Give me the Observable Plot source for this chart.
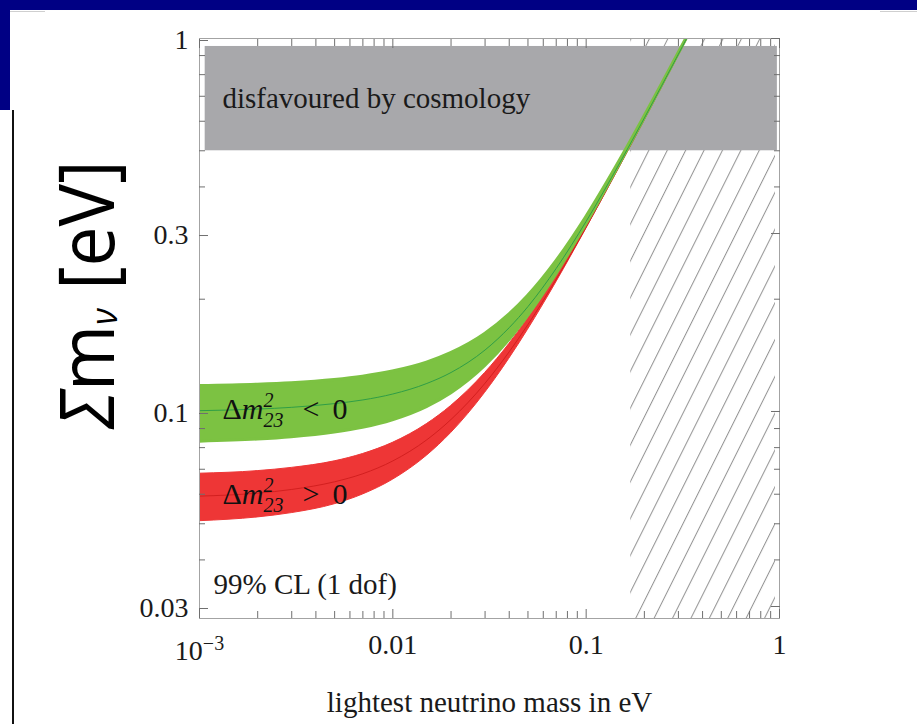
<!DOCTYPE html>
<html>
<head>
<meta charset="utf-8">
<script src="https://cdn.jsdelivr.net/npm/d3@7"></script>
<script src="https://cdn.jsdelivr.net/npm/@observablehq/plot@0.6"></script>
<style>
html, body { margin: 0; padding: 0; background: #fff; }
#wrap { position: relative; width: 917px; height: 724px; overflow: hidden; background: #fff; }
#chart { position: absolute; left: 0; top: 0; }
.deco { position: absolute; }
</style>
</head>
<body>
<div id="wrap">
  <div id="chart"></div>
  <div class="deco" style="left:0;top:0;width:917px;height:10px;background:#000084"></div>
  <div class="deco" style="left:0;top:0;width:10px;height:110px;background:#000084"></div>
  <div class="deco" style="left:10px;top:11px;width:35px;height:1px;background:#cfcfcf"></div>
  <div class="deco" style="left:880px;top:11px;width:37px;height:1px;background:#cfcfcf"></div>
  <div class="deco" style="left:12px;top:110px;width:2px;height:614px;background:#111"></div>
</div>
<script>
// ---- data ----
const masses          = [0.001, 0.002, 0.003, 0.005, 0.007, 0.01, 0.015, 0.02, 0.03, 0.04, 0.05, 0.07, 0.1, 0.15, 0.2, 0.3, 0.33];
const normalCentral   = [0.0593, 0.0604, 0.0618, 0.0648, 0.0681, 0.0737, 0.0840, 0.0952, 0.1191, 0.1446, 0.1711, 0.2263, 0.3120, 0.4582, 0.6062, 0.9042, 0.9938];
const normalLow       = [0.0508, 0.0520, 0.0534, 0.0564, 0.0599, 0.0656, 0.0761, 0.0875, 0.1122, 0.1384, 0.1656, 0.2218, 0.3085, 0.4558, 0.6044, 0.9030, 0.9927];
const normalHigh      = [0.0681, 0.0692, 0.0706, 0.0735, 0.0769, 0.0824, 0.0925, 0.1034, 0.1268, 0.1516, 0.1776, 0.2316, 0.3161, 0.4612, 0.6085, 0.9057, 0.9952];
const invertedCentral = [0.1005, 0.1015, 0.1026, 0.1050, 0.1074, 0.1114, 0.1189, 0.1272, 0.1462, 0.1678, 0.1911, 0.2419, 0.3235, 0.4662, 0.6123, 0.9082, 0.9975];
const invertedLow     = [0.0830, 0.0841, 0.0853, 0.0878, 0.0904, 0.0947, 0.1027, 0.1117, 0.1322, 0.1551, 0.1800, 0.2328, 0.3167, 0.4614, 0.6086, 0.9058, 0.9953];
const invertedHigh    = [0.1170, 0.1180, 0.1191, 0.1215, 0.1240, 0.1280, 0.1352, 0.1433, 0.1613, 0.1818, 0.2040, 0.2526, 0.3318, 0.4721, 0.6168, 0.9114, 1.0003];

const xDomain = [0.001, 1];
const yDomain = [0.02786, 1];
const xMajorTicks = [0.001, 0.01, 0.1, 1];
const xMinorTicks = [0.002,0.003,0.004,0.005,0.006,0.007,0.008,0.009,
                     0.02,0.03,0.04,0.05,0.06,0.07,0.08,0.09,
                     0.2,0.3,0.4,0.5,0.6,0.7,0.8,0.9];
const yMajorTicks = [0.03, 0.1, 0.3, 1];
const yMinorTicks = [0.04,0.05,0.06,0.07,0.08,0.09,0.2,0.4,0.5,0.6,0.7,0.8,0.9];

const cosmologyBand = [{x1: 0.00107, x2: 0.975, y1: 0.5, y2: 0.952}];
const excludedRegion = [{x1: 0.170, x2: 0.953, y1: yDomain[0], y2: yDomain[1]}];

const cosmologyText = "disfavoured by cosmology";
const clText = "99% CL (1 dof)";
const invertedText = "Δm23 < 0";
const normalText = "Δm23 > 0";
const xTitle = "lightest neutrino mass in eV";
const yTitle = "Σmν [eV]";

const normal = masses.map((m, i) => ({m, c: normalCentral[i], lo: normalLow[i], hi: normalHigh[i]}));
const inverted = masses.map((m, i) => ({m, c: invertedCentral[i], lo: invertedLow[i], hi: invertedHigh[i]}));

const tickStroke = "#6f6f6f";
const fmtX = d => d === 0.001 ? "10^-3" : String(d);
const fmtY = d => String(d);
const blank = () => "";

const chart = Plot.plot({
  width: 917, height: 724,
  marginLeft: 199, marginRight: 138, marginTop: 38, marginBottom: 106,
  style: {fontFamily: "'Liberation Serif', 'Times New Roman', serif", fontSize: "28px", background: "transparent", color: "#1a1a1a", overflow: "visible"},
  x: {type: "log", domain: xDomain},
  y: {type: "log", domain: yDomain},
  marks: [
    Plot.rect(excludedRegion, {x1: "x1", x2: "x2", y1: "y1", y2: "y2", fill: "url(#hatch)"}),
    Plot.rect(cosmologyBand, {x1: "x1", x2: "x2", y1: "y1", y2: "y2", fill: "#a8a8ab"}),
    Plot.areaY(normal, {x: "m", y1: "lo", y2: "hi", fill: "#ee3636", stroke: "#ee3636", strokeWidth: 1, curve: "monotone-x", clip: true}),
    Plot.lineY(normal, {x: "m", y: "c", stroke: "#d31f1f", strokeWidth: 1, curve: "monotone-x", clip: true}),
    Plot.areaY(inverted, {x: "m", y1: "lo", y2: "hi", fill: "#7cc242", stroke: "#7cc242", strokeWidth: 3, curve: "monotone-x", clip: true}),
    Plot.lineY(inverted, {x: "m", y: "c", stroke: "#2f9e46", strokeWidth: 1, curve: "monotone-x", clip: true}),
    Plot.frame({stroke: "#a3a3a3"}),
    Plot.axisX({anchor: "bottom", ticks: xMinorTicks, tickSize: -7, tickFormat: blank, label: null, stroke: tickStroke}),
    Plot.axisX({anchor: "bottom", ticks: xMajorTicks, tickSize: -9, tickPadding: 25, tickFormat: fmtX, label: null, stroke: tickStroke}),
    Plot.axisX({anchor: "top", ticks: xMinorTicks, tickSize: -7, tickFormat: blank, label: null, stroke: tickStroke}),
    Plot.axisX({anchor: "top", ticks: xMajorTicks, tickSize: -9, tickFormat: blank, label: null, stroke: tickStroke}),
    Plot.axisY({anchor: "left", ticks: yMinorTicks, tickSize: -6, tickFormat: blank, label: null, stroke: tickStroke}),
    Plot.axisY({anchor: "left", ticks: yMajorTicks, tickSize: -9, tickPadding: 20, dy: 2, tickFormat: fmtY, label: null, stroke: tickStroke}),
    Plot.axisY({anchor: "right", ticks: yMinorTicks, tickSize: -6, tickFormat: blank, label: null, stroke: tickStroke}),
    Plot.axisY({anchor: "right", ticks: yMajorTicks, tickSize: -9, tickFormat: blank, label: null, stroke: tickStroke}),
    Plot.text([cosmologyText], {text: d => d, frameAnchor: "top-left", dx: 23, dy: 69, lineAnchor: "bottom", textAnchor: "start", fontSize: 29, fill: "#1a1a1a"}),
    Plot.text([clText], {text: d => d, frameAnchor: "bottom-left", dx: 14, dy: -25, lineAnchor: "bottom", textAnchor: "start", fontSize: 29, fill: "#1a1a1a"}),
    Plot.text([invertedText], {text: d => d, frameAnchor: "top-left", dx: 23, dy: 380, lineAnchor: "bottom", textAnchor: "start", fontSize: 30, fill: "#111"}),
    Plot.text([normalText], {text: d => d, frameAnchor: "top-left", dx: 23, dy: 465, lineAnchor: "bottom", textAnchor: "start", fontSize: 30, fill: "#111"}),
    Plot.text([xTitle], {text: d => d, frameAnchor: "bottom", dy: 93, lineAnchor: "bottom", fontSize: 29, fill: "#1a1a1a"}),
    Plot.text([yTitle], {text: d => d, frameAnchor: "left", dx: -86, dy: -34, rotate: -90, lineAnchor: "bottom", textAnchor: "middle", fontFamily: "'Open Sans', sans-serif", fontSize: 76, fill: "#000"})
  ]
});

// hatch pattern for the excluded region
const NS = "http://www.w3.org/2000/svg";
const defs = document.createElementNS(NS, "defs");
defs.innerHTML = '<pattern id="hatch" patternUnits="userSpaceOnUse" width="20" height="16.46" patternTransform="translate(5.7,0) rotate(-63.435)">' +
  '<rect width="20" height="16.46" fill="none"/><path d="M-1,0.5H21" stroke="#959595" stroke-width="1.1"/></pattern>';
chart.insertBefore(defs, chart.firstChild);

document.getElementById("chart").append(chart);

// rich text: superscripts / subscripts / italics
chart.querySelectorAll("text").forEach(t => {
  const s = t.textContent;
  if (s === "10^-3") {
    t.innerHTML = '<tspan dy="6">10</tspan><tspan dy="-10" font-size="20">\u22123</tspan>';
  } else if (s === invertedText || s === normalText) {
    const rel = s === invertedText ? "&lt;" : "&gt;";
    t.innerHTML = 'Δ<tspan font-style="italic">m</tspan>' +
      '<tspan font-style="italic" font-size="20" dy="-12">2</tspan>' +
      '<tspan font-style="italic" font-size="20" dx="-10" dy="20">23</tspan>' +
      '<tspan dy="-8" dx="19">' + rel + '</tspan>' +
      '<tspan dx="13">0</tspan>';
  } else if (s === yTitle) {
    t.innerHTML = '<tspan font-style="italic">Σ</tspan>m<tspan font-style="italic" font-size="36" dy="3">ν</tspan><tspan dy="-3"> [eV]</tspan>';
    t.setAttribute("textLength", "268");
    t.setAttribute("lengthAdjust", "spacingAndGlyphs");
  }
});
</script>
</body>
</html>
